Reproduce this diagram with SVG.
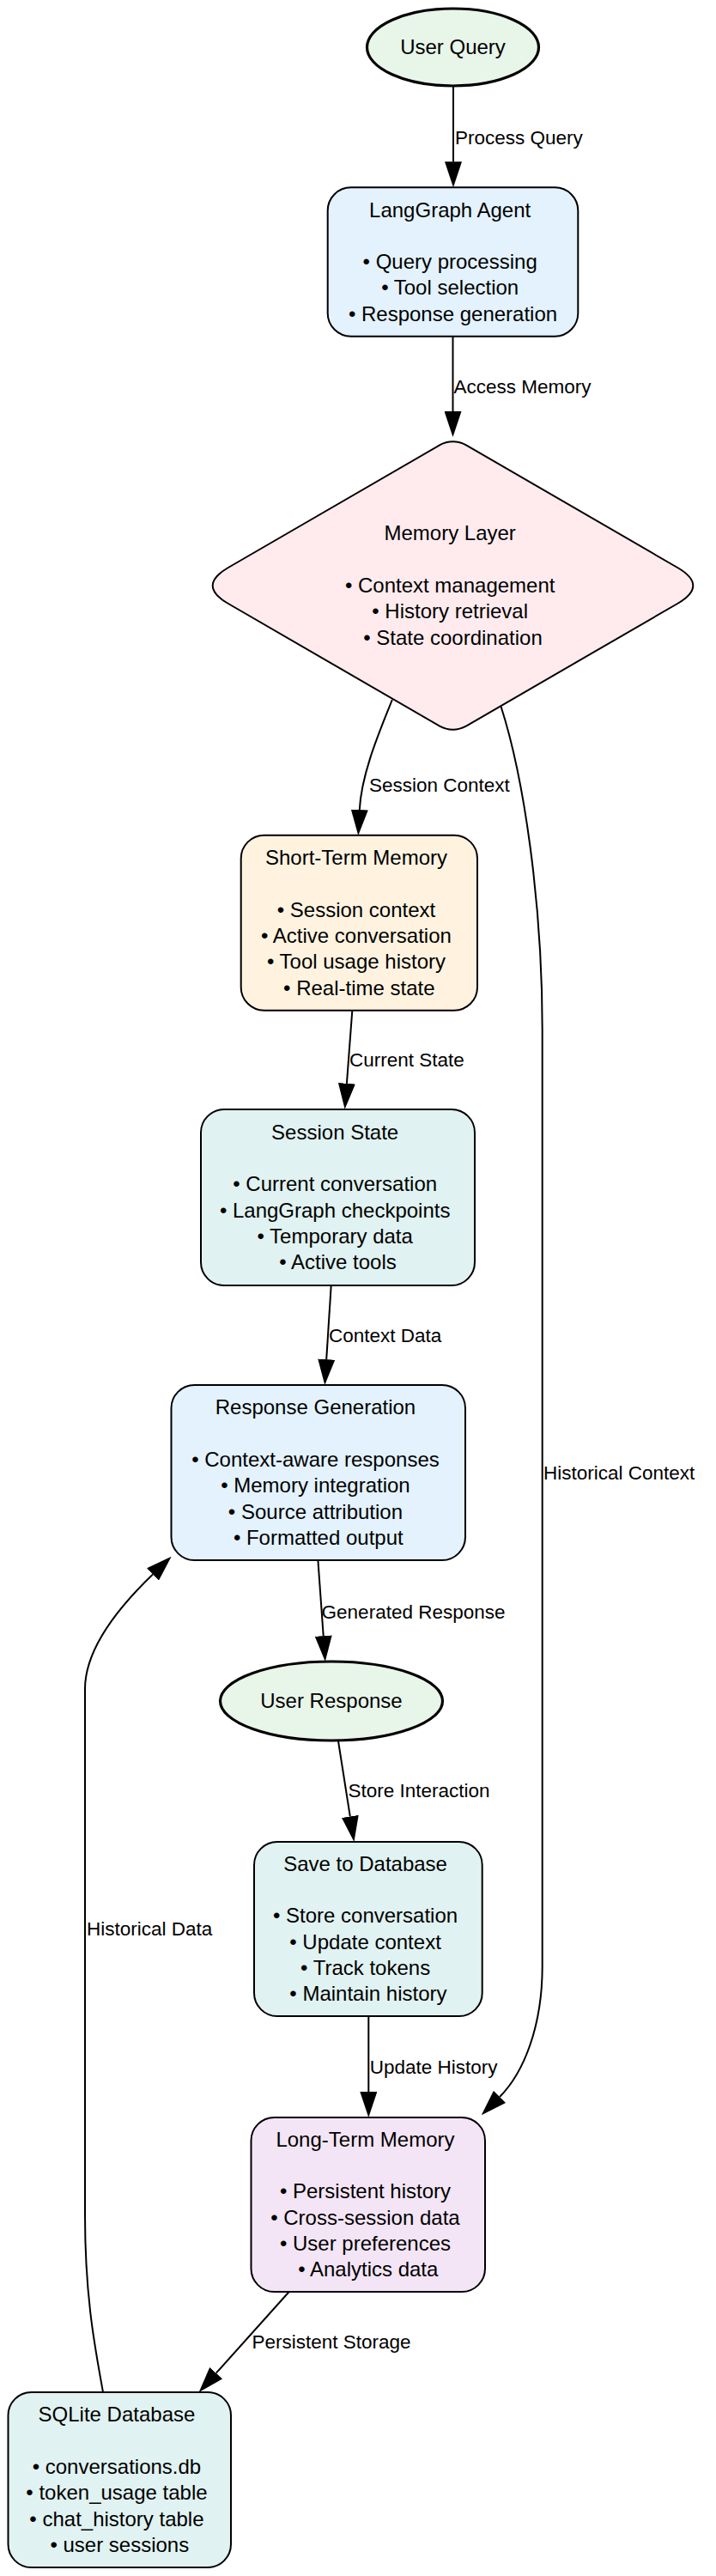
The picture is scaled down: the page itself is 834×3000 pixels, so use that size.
<svg xmlns="http://www.w3.org/2000/svg" width="834" height="3000" viewBox="0 0 834 3000">
<style>
.bg{fill:#ffffff}
.box{stroke:#000;stroke-width:2}
.term{stroke:#000;stroke-width:3.2}
.nt{font-family:"Liberation Sans",Arial,sans-serif;font-size:24px;fill:#000;text-anchor:middle}
.el{font-family:"Liberation Sans",Arial,sans-serif;font-size:22.5px;fill:#000;text-anchor:start}
.edge{fill:none;stroke:#000;stroke-width:2}
.green{fill:#E8F5E9}
.blue{fill:#E3F2FD}
.pink{fill:#FFEBEE}
.orange{fill:#FFF3E0}
.teal{fill:#E0F2F1}
.purple{fill:#F3E5F5}
</style>
<defs>
<marker id="arr" viewBox="0 0 30 20" refX="0" refY="10" markerWidth="30" markerHeight="20" markerUnits="userSpaceOnUse" orient="auto">
<path d="M0,0 L30,10 L0,20 z" fill="#000"/>
</marker>
</defs>
<rect class="bg" x="0" y="0" width="834" height="3000"/>

<g id="connectors">
<g id="e-query-agent">
<path class="edge" d="M528,100 L528,188.3" marker-end="url(#arr)"/>
<text class="el" x="530" y="168">Process Query</text>
</g>
<g id="e-agent-memory">
<path class="edge" d="M527.5,391.7 L527.5,479" marker-end="url(#arr)"/>
<text class="el" x="528.5" y="458">Access Memory</text>
</g>
<g id="e-memory-short">
<path class="edge" d="M456.8,815 C443,850 421,900 418.8,943" marker-end="url(#arr)"/>
<text class="el" x="430" y="921.7">Session Context</text>
</g>
<g id="e-short-session">
<path class="edge" d="M410.3,1177 L403.9,1261.8" marker-end="url(#arr)"/>
<text class="el" x="407" y="1242">Current State</text>
</g>
<g id="e-session-response">
<path class="edge" d="M385.7,1497 L380.2,1583.1" marker-end="url(#arr)"/>
<text class="el" x="383" y="1563">Context Data</text>
</g>
<g id="e-response-user">
<path class="edge" d="M370.4,1817 L376.7,1905.1" marker-end="url(#arr)"/>
<text class="el" x="374.6" y="1885">Generated Response</text>
</g>
<g id="e-user-save">
<path class="edge" d="M393.9,2027 L407.8,2115.4" marker-end="url(#arr)"/>
<text class="el" x="405.4" y="2093">Store Interaction</text>
</g>
<g id="e-save-long">
<path class="edge" d="M429.3,2348 L429.3,2436" marker-end="url(#arr)"/>
<text class="el" x="430.7" y="2415">Update History</text>
</g>
<g id="e-long-sqlite">
<path class="edge" d="M336.7,2669 L251.7,2763.7" marker-end="url(#arr)"/>
<text class="el" x="293.5" y="2735">Persistent Storage</text>
</g>
<g id="e-memory-long">
<path class="edge" d="M583.6,823 C610,905 631.7,1050 631.7,1200 L631.7,2290 C631.7,2360 610,2414 582,2442" marker-end="url(#arr)"/>
<text class="el" x="633" y="1723">Historical Context</text>
</g>
<g id="e-sqlite-response">
<path class="edge" d="M120,2786 C112,2740 99,2680 99,2580 L99,1967 C99,1920 140,1870 178,1833.5" marker-end="url(#arr)"/>
<text class="el" x="101" y="2254">Historical Data</text>
</g>
</g>

<g id="user-query">
<ellipse class="term green" cx="527.5" cy="55" rx="100" ry="45"/>
<text class="nt" x="527.5" y="63.3">User Query</text>
</g>

<g id="langgraph-agent">
<rect class="box blue" x="381.7" y="218.3" width="291.6" height="173.4" rx="27" ry="27"/>
<text class="nt">
<tspan x="527.5" y="252.5">LangGraph Agent</tspan>
<tspan x="527.5" y="313">• Query processing</tspan>
<tspan x="527.5" y="343.3">• Tool selection</tspan>
<tspan x="527.5" y="373.6">• Response generation</tspan>
</text>
</g>

<g id="memory-layer">
<path class="box pink" d="M511.6,518.7 Q527.5,510 543.4,518.7 L789.1,661 Q825.5,682 789.1,703 L543.4,845.3 Q527.5,854 511.6,845.3 L265.9,703 Q229.5,682 265.9,661 Z"/>
<text class="nt">
<tspan x="527.5" y="629.4">Memory Layer</tspan>
<tspan x="527.5" y="690">• Context management</tspan>
<tspan x="527.5" y="720.3">• History retrieval</tspan>
<tspan x="527.5" y="750.6">• State coordination</tspan>
</text>
</g>

<g id="short-term-memory">
<rect class="box orange" x="280.7" y="972.7" width="275.3" height="204" rx="27" ry="27"/>
<text class="nt">
<tspan x="418.3" y="1007">Short-Term Memory</tspan>
<tspan x="418.3" y="1067.6">• Session context</tspan>
<tspan x="418.3" y="1097.9">• Active conversation</tspan>
<tspan x="418.3" y="1128.2">• Tool usage history</tspan>
<tspan x="418.3" y="1158.5">• Real-time state</tspan>
</text>
</g>

<g id="session-state">
<rect class="box teal" x="234" y="1292" width="319" height="205" rx="27" ry="27"/>
<text class="nt">
<tspan x="393.5" y="1326.8">Session State</tspan>
<tspan x="393.5" y="1387.4">• Current conversation</tspan>
<tspan x="393.5" y="1417.7">• LangGraph checkpoints</tspan>
<tspan x="393.5" y="1448">• Temporary data</tspan>
<tspan x="393.5" y="1478.3">• Active tools</tspan>
</text>
</g>

<g id="response-generation">
<rect class="box blue" x="199.5" y="1613" width="342.5" height="204" rx="27" ry="27"/>
<text class="nt">
<tspan x="370.8" y="1647.3">Response Generation</tspan>
<tspan x="370.8" y="1707.9">• Context-aware responses</tspan>
<tspan x="370.8" y="1738.2">• Memory integration</tspan>
<tspan x="370.8" y="1768.5">• Source attribution</tspan>
<tspan x="370.8" y="1798.8">• Formatted output</tspan>
</text>
</g>

<g id="user-response">
<ellipse class="term green" cx="386" cy="1981" rx="129.5" ry="46"/>
<text class="nt" x="386" y="1989.3">User Response</text>
</g>

<g id="save-to-database">
<rect class="box teal" x="296" y="2145" width="265.7" height="203" rx="27" ry="27"/>
<text class="nt">
<tspan x="428.9" y="2178.8">Save to Database</tspan>
<tspan x="428.9" y="2239.4">• Store conversation</tspan>
<tspan x="428.9" y="2269.7">• Update context</tspan>
<tspan x="428.9" y="2300">• Track tokens</tspan>
<tspan x="428.9" y="2330.3">• Maintain history</tspan>
</text>
</g>

<g id="long-term-memory">
<rect class="box purple" x="292.5" y="2466" width="272.5" height="203" rx="27" ry="27"/>
<text class="nt">
<tspan x="428.8" y="2499.8">Long-Term Memory</tspan>
<tspan x="428.8" y="2560.4">• Persistent history</tspan>
<tspan x="428.8" y="2590.7">• Cross-session data</tspan>
<tspan x="428.8" y="2621">• User preferences</tspan>
<tspan x="428.8" y="2651.3">• Analytics data</tspan>
</text>
</g>

<g id="sqlite-database">
<rect class="box teal" x="9.5" y="2786" width="259.5" height="204" rx="27" ry="27"/>
<text class="nt">
<tspan x="139.3" y="2820.3">SQLite Database</tspan>
<tspan x="139.3" y="2880.9">• conversations.db</tspan>
<tspan x="139.3" y="2911.2">• token_usage table</tspan>
<tspan x="139.3" y="2941.5">• chat_history table</tspan>
<tspan x="139.3" y="2971.8">• user sessions</tspan>
</text>
</g>
</svg>
